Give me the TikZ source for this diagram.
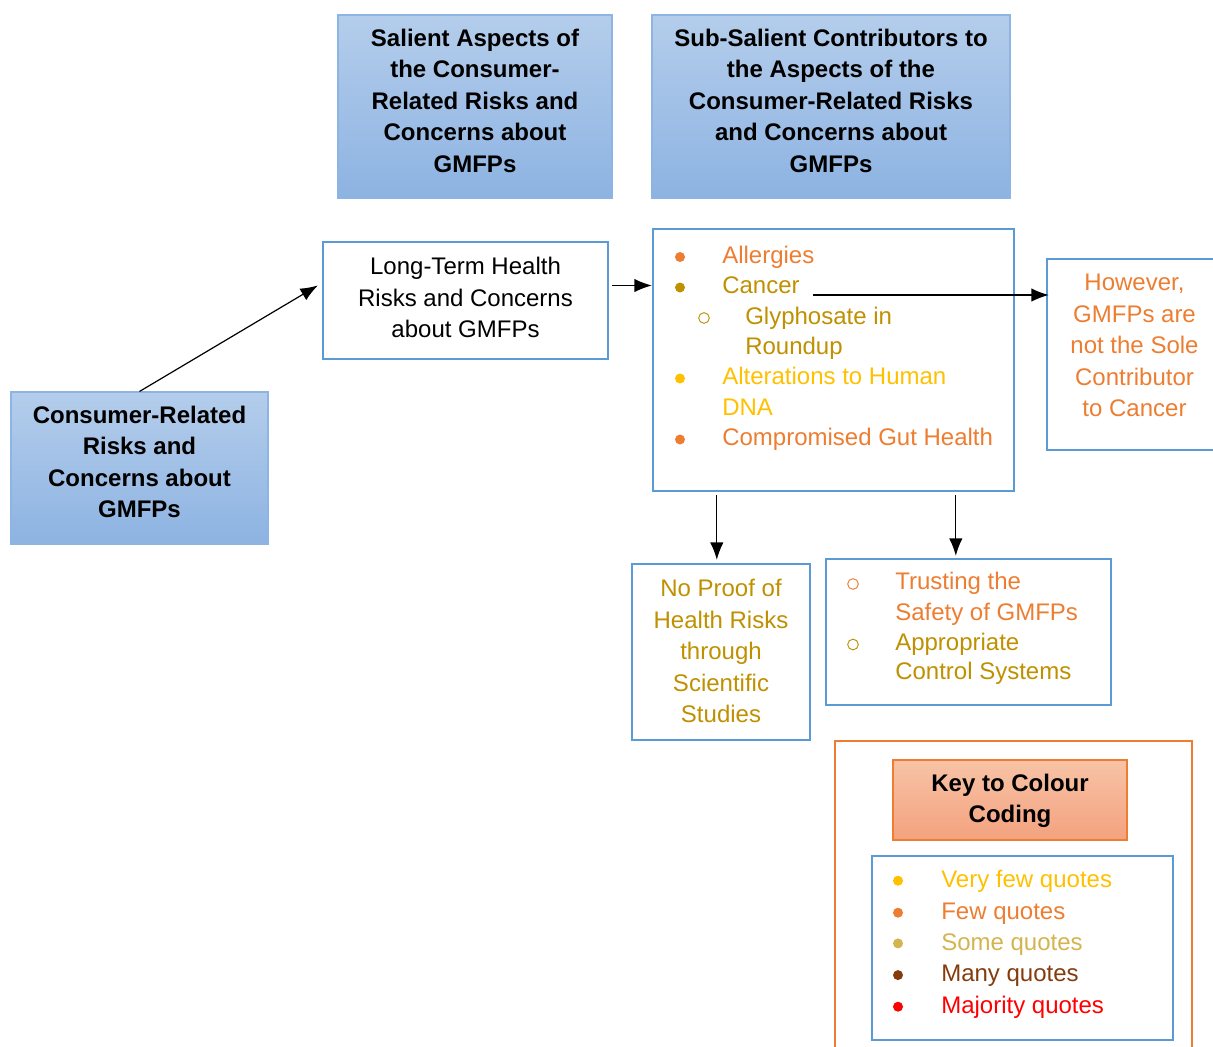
\documentclass[tikz,border=0pt]{standalone}
\usepackage{fontspec}
\setmainfont{Liberation Sans}
\usetikzlibrary{arrows.meta,calc,fit}

\definecolor{boxblue}{HTML}{5B9BD5}
\definecolor{hdrtop}{HTML}{B4CDEB}
\definecolor{hdrbot}{HTML}{8DB3E2}
\definecolor{hdrline}{HTML}{8EB4E3}
\definecolor{qorange}{HTML}{ED7D31}
\definecolor{qgold}{HTML}{BF9000}
\definecolor{qyellow}{HTML}{FFC000}
\definecolor{qsome}{HTML}{D4B44F}
\definecolor{qbrown}{HTML}{843C0C}
\definecolor{qred}{HTML}{FF0000}
\definecolor{keytop}{HTML}{F7C3A6}
\definecolor{keybot}{HTML}{F4A27F}

\begin{document}
\begin{tikzpicture}[x=0.75pt,y=-0.75pt,
  every node/.style={font=\fontsize{18}{23.6}\selectfont},
  box/.style={draw=boxblue, line width=1.8pt, inner sep=0pt},
  header/.style={draw=hdrline, line width=0.8pt, top color=hdrtop, bottom color=hdrbot, inner sep=0pt},
  boxtext/.style={align=center, inner sep=0pt},
  boldtext/.style={boxtext, font=\fontsize{18}{23.6}\selectfont\bfseries},
  item/.style={anchor=base west, inner sep=0pt},
  dot/.style={circle, inner sep=0pt, minimum size=7.5pt},
  ring/.style={circle, line width=0.7pt, inner sep=0pt, minimum size=8pt},
  arr/.style={-{Latex[length=13pt,width=10pt]}, line width=0.9pt}
]
\useasboundingbox (0,0) rectangle (1213,1046);
\clip (0,0) rectangle (1213,1046);

% column headers
\node[header, fit={(338,15) (612,198)}] (h1) {};
\node[boldtext] (h1t) at ($(h1.center)+(0,-6)$)
  {Salient Aspects of\\the Consumer-\\Related Risks and\\Concerns about\\GMFPs};
\node[header, fit={(652,15) (1010,198)}] (h2) {};
\node[boldtext] (h2t) at ($(h2.center)+(0,-6)$)
  {Sub-Salient Contributors to\\the Aspects of the\\Consumer-Related Risks\\and Concerns about\\GMFPs};

% root theme
\node[header, fit={(11,392) (268,544)}] (crc) {};
\node[boldtext] (crct) at ($(crc.center)+(0,-6)$)
  {Consumer-Related\\Risks and\\Concerns about\\GMFPs};

% salient aspect
\node[box, fit={(323,242) (608,359)}] (lt) {};
\node[boxtext] (ltt) at ($(lt.center)+(0,-3)$)
  {Long-Term Health\\Risks and Concerns\\about GMFPs};

% sub-salient contributors
\node[box, fit={(653,229) (1014,491)}] (mb) {};
\node[dot, fill=qorange] (b1) at (680,257) {};
\node[item, text=qorange] (i1) at (722,263) {Allergies};
\node[dot, fill=qgold] (b2) at (680,287.5) {};
\node[item, text=qgold] (i2) at (722,293.5) {Cancer};
\node[ring, draw=qgold] (c3) at (704,318) {};
\node[item, text=qgold] (i3) at (745,324) {Glyphosate in};
\node[item, text=qgold] (i3b) at (745,354) {Roundup};
\node[dot, fill=qyellow] (b4) at (680,378.5) {};
\node[item, text=qyellow] (i4) at (722,384.5) {Alterations to Human};
\node[item, text=qyellow] (i4b) at (722,415) {DNA};
\node[dot, fill=qorange] (b5) at (680,439.5) {};
\node[item, text=qorange] (i5) at (722,445.5) {Compromised Gut Health};

% counterpoint to cancer
\node[box, fit={(1047,259) (1222,450)}] (rb) {};
\node[boxtext, text=qorange] (rbt) at ($(rb.center)+(0,-9)$)
  {However,\\GMFPs are\\not the Sole\\Contributor\\to Cancer};

% lower branches
\node[box, fit={(632,564) (810,740)}] (np) {};
\node[boxtext, text=qgold] (npt) at ($(np.center)+(0,-1)$)
  {No Proof of\\Health Risks\\through\\Scientific\\Studies};

\node[box, fit={(826,559) (1111,705)}] (tr) {};
\node[ring, draw=qorange] (c6) at (853,584) {};
\node[item, text=qorange] (i6) at (895,589.3) {Trusting the};
\node[item, text=qorange] (i6b) at (895,620.5) {Safety of GMFPs};
\node[ring, draw=qgold] (c7) at (853,644.5) {};
\node[item, text=qgold] (i7) at (895,650) {Appropriate};
\node[item, text=qgold] (i7b) at (895,679.5) {Control Systems};

% colour key
\node[draw=qorange, line width=1.8pt, inner sep=0pt, fit={(835,741) (1192,1070)}] (ko) {};
\node[draw=qorange, line width=1pt, top color=keytop, bottom color=keybot, inner sep=0pt,
  fit={(893,760) (1127,840)}] (kt) {};
\node[boldtext] (ktt) at ($(kt.center)+(0,1)$) {Key to Colour\\Coding};
\node[box, fit={(872,856) (1173,1040)}] (kl) {};
\node[dot, fill=qyellow] (k1) at (898,880.7) {};
\node[item, text=qyellow] (kt1) at (941,887.3) {Very few quotes};
\node[dot, fill=qorange] (k2) at (898,912.7) {};
\node[item, text=qorange] (kt2) at (941,919.3) {Few quotes};
\node[dot, fill=qsome] (k3) at (898,943.4) {};
\node[item, text=qsome] (kt3) at (941,950) {Some quotes};
\node[dot, fill=qbrown] (k4) at (898,975.1) {};
\node[item, text=qbrown] (kt4) at (941,981.7) {Many quotes};
\node[dot, fill=qred] (k5) at (898,1006.7) {};
\node[item, text=qred] (kt5) at (941,1013.3) {Majority quotes};

% connectors
\draw[arr] (crc.north) -- ($(lt.west)+(-4,-15)$);
\coordinate (la) at ($(lt.east)+(3,-15)$);
\draw[arr] (la) -- (la -| mb.west);
\coordinate (cz) at ($(i2.base east)+(13,1.5)$);
\draw[arr] (cz) -- ($(cz -| rb.west)+(3,0)$);
\coordinate (d1) at ($(mb.south west)+(65,3)$);
\draw[arr] (d1) -- ($(d1 |- np.north)+(0,-3)$);
\coordinate (d2) at ($(mb.south west)+(304,3)$);
\draw[arr] (d2) -- ($(d2 |- tr.north)+(0,-2)$);
\end{tikzpicture}
\end{document}
